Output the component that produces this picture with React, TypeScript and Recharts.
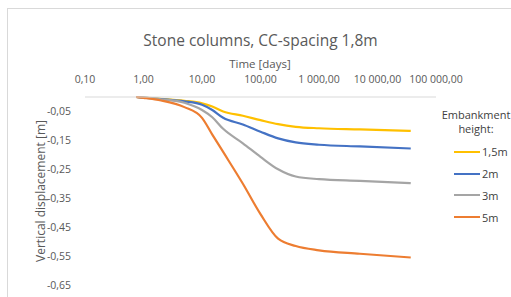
import * as React from "react";
import { LineChart, Line, XAxis, YAxis } from "recharts";

const days = [0.75, 1, 2, 5, 10, 15, 23, 50, 100, 200, 400, 1000, 5000, 37000];
const h15 = [0, -0.002, -0.006, -0.013, -0.022, -0.033, -0.05, -0.065, -0.08, -0.094, -0.103, -0.108, -0.112, -0.117];
const h2 = [0, -0.002, -0.007, -0.015, -0.027, -0.045, -0.072, -0.095, -0.12, -0.143, -0.157, -0.165, -0.171, -0.178];
const h3 = [0, -0.002, -0.008, -0.02, -0.045, -0.07, -0.11, -0.16, -0.207, -0.25, -0.275, -0.284, -0.29, -0.298];
const h5 = [0, -0.003, -0.012, -0.035, -0.072, -0.13, -0.19, -0.3, -0.405, -0.49, -0.515, -0.53, -0.542, -0.555];

const xTicks = [0.1, 1, 10, 100, 1000, 10000, 100000];
const yTicks = [-0.65, -0.55, -0.45, -0.35, -0.25, -0.15, -0.05];

const seriesNames = ["1,5m", "2m", "3m", "5m"];
const colors = ["#FFC000", "#4472C4", "#A5A5A5", "#ED7D31"];

const rows = days.map((t, i) => ({
  t,
  s0: h15[i],
  s1: h2[i],
  s2: h3[i],
  s3: h5[i],
}));

const fmt = (v: number) => {
  const neg = v < 0;
  const [ip, dp] = Math.abs(v).toFixed(2).split(".");
  const grouped = ip.replace(/\B(?=(\d{3})+(?!\d))/g, " ");
  return (neg ? "-" : "") + grouped + "," + dp;
};

const FONT = "'Open Sans', sans-serif";
const GREY = "#595959";
const GRID = "#D9D9D9";

// plot box size (chart size minus margins and axis space)
const PLOT_W = 511 - 45 - 40 - 75;
const PLOT_H = 297 - 67 - 30 - 12;

function LegendBox() {
  return (
    <div
      style={{
        position: "absolute",
        left: 440,
        top: 108,
        width: 72,
        fontSize: 11,
        color: "#404040",
      }}
    >
      <div style={{ textAlign: "center", lineHeight: "14px", marginBottom: 5 }}>
        Embankment
        <br />
        height:
      </div>
      {seriesNames.map((n, i) => (
        <div key={n} style={{ display: "flex", alignItems: "center", height: 21.8 }}>
          <span
            style={{
              display: "inline-block",
              width: 26,
              height: 2,
              background: colors[i],
              marginLeft: 14,
              marginRight: 2,
            }}
          />
          <span>{n}</span>
        </div>
      ))}
    </div>
  );
}

export default function App() {
  return (
    <div
      style={{
        position: "absolute",
        left: 0,
        top: 0,
        width: 511,
        height: 297,
        overflow: "hidden",
        background: "#fff",
        fontFamily: FONT,
      }}
    >
      <div
        style={{
          position: "absolute",
          left: 7,
          top: 8,
          width: 600,
          height: 400,
          border: "1px solid " + GRID,
        }}
      />
      <div
        style={{
          position: "absolute",
          left: 0,
          width: 521,
          top: 29,
          textAlign: "center",
          fontSize: 15.5,
          color: GREY,
        }}
      >
        Stone columns, CC-spacing 1,8m
      </div>
      <div
        style={{
          position: "absolute",
          left: 160,
          width: 200,
          top: 56,
          textAlign: "center",
          fontSize: 11.5,
          color: GREY,
        }}
      >
        Time [days]
      </div>
      <div
        style={{
          position: "absolute",
          left: 40,
          top: 191,
          transform: "translate(-50%, -50%) rotate(-90deg)",
          whiteSpace: "nowrap",
          fontSize: 12,
          color: GREY,
        }}
      >
        Vertical displacement [m]
      </div>
      <div style={{ position: "absolute", left: 0, top: 0 }}>
        <LineChart
          width={511}
          height={297}
          data={rows}
          margin={{ top: 67, right: 75, bottom: 12, left: 45 }}
        >
          <XAxis
            dataKey="t"
            type="number"
            scale="log"
            domain={[0.1, 100000]}
            ticks={xTicks}
            orientation="top"
            height={30}
            allowDataOverflow
            tickFormatter={fmt}
            tick={{ fontSize: 10.5, fill: GREY }}
            tickLine={false}
            axisLine={{ stroke: GRID }}
            tickMargin={8}
            interval={0}
          />
          {/* grid: vertical lines from a mirrored bottom axis */}
          <XAxis
            xAxisId="grid"
            dataKey="t"
            type="number"
            scale="log"
            domain={[0.1, 100000]}
            ticks={xTicks}
            orientation="bottom"
            mirror
            height={0}
            allowDataOverflow
            tick={false}
            tickSize={PLOT_H}
            tickLine={{ stroke: GRID }}
            axisLine={{ stroke: GRID }}
            interval={0}
          />
          <YAxis
            type="number"
            domain={[-0.65, 0]}
            ticks={yTicks}
            width={40}
            tickFormatter={fmt}
            tick={{ fontSize: 10.5, fill: GREY }}
            tickLine={false}
            axisLine={false}
            tickMargin={8}
            interval={0}
          />
          {/* grid: horizontal lines from a mirrored right axis */}
          <YAxis
            yAxisId="grid"
            type="number"
            domain={[-0.65, 0]}
            ticks={yTicks}
            orientation="right"
            mirror
            width={0}
            allowDataOverflow
            tick={false}
            tickSize={PLOT_W}
            tickLine={{ stroke: GRID }}
            axisLine={{ stroke: GRID }}
            interval={0}
          />
          {seriesNames.map((n, i) => (
            <Line
              key={n}
              name={n}
              dataKey={"s" + i}
              type="monotone"
              stroke={colors[i]}
              strokeWidth={2.2}
              dot={false}
              isAnimationActive={false}
            />
          ))}
        </LineChart>
      </div>
      <LegendBox />
    </div>
  );
}
